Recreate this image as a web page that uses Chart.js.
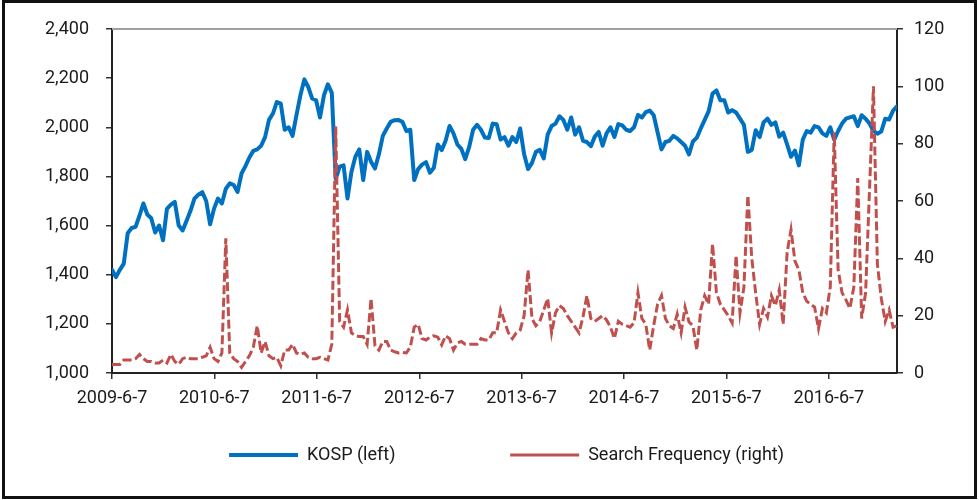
<!DOCTYPE html>
<html><head><meta charset="utf-8">
<script src="https://cdn.jsdelivr.net/npm/chart.js@4.4.0/dist/chart.umd.min.js"></script>
<style>
html,body{margin:0;padding:0;background:#fff;}
#wrap{position:relative;width:979px;height:500px;overflow:hidden;}
#frame{position:absolute;left:2px;top:0;width:975px;height:499px;border:3px solid #111;box-sizing:border-box;pointer-events:none;}
canvas{position:absolute;left:0;top:0;}
</style></head><body>
<div id="wrap"><canvas id="c" width="979" height="500"></canvas><div id="frame"></div></div>
<script>
// ---- data (biweekly observations starting 2009-6-7) ----
const startDate = '2009-6-7';
const stepDays = 14;
const tickLabels = ['2009-6-7','2010-6-7','2011-6-7','2012-6-7','2013-6-7','2014-6-7','2015-6-7','2016-6-7'];
const axisEndDay = 2800;
const seriesNames = ['KOSP (left)', 'Search Frequency (right)'];
const leftTicks = {min: 1000, max: 2400, step: 200};
const rightTicks = {min: 0, max: 120, step: 20};

const kospi = [
1420,1390,1420,1445,1569,1590,1595,1640,1690,1645,
1630,1572,1600,1540,1668,1685,1696,1600,1580,1620,
1660,1710,1726,1736,1700,1605,1669,1710,1690,1750,
1772,1765,1737,1812,1842,1877,1904,1910,1925,1960,
2030,2056,2103,2096,1990,2000,1965,2050,2130,2195,
2164,2117,2110,2040,2130,2175,2140,1790,1840,1845,
1710,1818,1880,1910,1785,1900,1860,1832,1890,1965,
1995,2022,2029,2030,2022,1985,1990,1785,1830,1848,
1858,1815,1835,1930,1907,1945,2005,1975,1930,1912,
1870,1920,1990,2010,1990,1958,1956,2015,2012,1950,
1960,1925,1960,1940,1995,1890,1830,1855,1900,1908,
1873,1970,2005,2015,2045,2030,1990,2040,1970,2000,
1945,1940,1923,1962,1981,1925,1975,2000,1961,2013,
2008,1990,1985,2000,2050,2040,2062,2068,2050,1980,
1910,1940,1945,1965,1955,1940,1925,1890,1942,1958,
1995,2030,2065,2137,2150,2110,2110,2060,2070,2060,
2035,2010,1900,1908,1988,1960,2020,2035,2010,2020,
1962,1978,1930,1880,1905,1845,1950,1985,1978,2005,
2000,1975,1965,2000,1950,1985,2015,2035,2040,2045,
2005,2049,2035,2015,1985,1974,1983,2035,2032,2068,
2085
];

const searchFreq = [
3,3,3,4.5,4.5,4.5,5,6.5,5,4,
4,3.5,3.5,4.5,3.5,6.5,4,3,5,5.5,
5,5,5,5.5,6,9,5,4,7,47,
7,5,4,2,4,6,9,16.5,7,11,
6,5,5.5,2.5,8,8,10,7,6.5,7,
5.5,5,5,5.5,5,4.5,10,86,18,16,
22,14,13,12.7,12.7,10,26,9.5,8,11,
11,8,7.4,7,7.2,7,9,16,17,12,
11.5,12.5,13,12.5,9.8,13,12,8,10.5,11,
10,10,10,10,12,11.5,11.5,14,14,22,
18,14,12,14,15,20,36,19,16.5,18,
22,26,14,21,23.5,22.5,20,18,16,14,
19.6,27,19,18,19,20,18.5,16,12,18,
17,16.5,16,17.5,28,19,17,8,16.5,24,
27,19,16.5,15.5,20.5,14,23,17.8,16.5,8,
22,27,24,45,28,24,22,20,17.5,41,
21,30,62,40,27.8,17,22.5,19.5,27,23.5,
29,17,42,50,39,36,28,25,24,23,
15.5,22.5,21,30,84,36,28,25.5,22.5,30,
68,19,28,64,100,38,26,18,22,16,
16.5
];

// ---- helpers ----
function toUTC(s){ const p = s.split('-').map(Number); return Date.UTC(p[0], p[1]-1, p[2]); }
const t0 = toUTC(startDate);
const dayOf = s => Math.round((toUTC(s) - t0) / 864e5);
const tickDays = tickLabels.map(dayOf);
const labelByDay = {}; tickLabels.forEach((l,i)=>{ labelByDay[tickDays[i]] = l; });
const toPoints = arr => arr.map((v,i)=>({x: i*stepDays, y: v}));

const FONT = 'Roboto, "Liberation Sans", sans-serif';
const TEXT = '#1a1a1a';

// legend spacing between the two entries (style only)
const mctx = document.createElement('canvas').getContext('2d');
mctx.font = '18px ' + FONT;
const spaceW = mctx.measureText(' ').width || 4.5;
const legendGapPx = 102;

const plotTopLine = {
  id: 'plotTopLine',
  beforeDatasetsDraw(chart){
    const {ctx, chartArea: a} = chart;
    ctx.save();
    ctx.strokeStyle = '#a0a0a0';
    ctx.lineWidth = 2;
    ctx.beginPath(); ctx.moveTo(a.left, a.top); ctx.lineTo(a.right, a.top); ctx.stroke();
    ctx.restore();
  }
};

const axisGrid = {drawOnChartArea: false, drawTicks: true, tickLength: 6, color: '#333', lineWidth: 1.5};
const axisBorder = {display: true, color: '#222', width: 2};

new Chart(document.getElementById('c'), {
  type: 'line',
  data: {
    datasets: [
      {label: seriesNames[0], data: toPoints(kospi), yAxisID: 'yL', borderColor: '#0070C0', backgroundColor: '#0070C0',
       borderWidth: 4, pointRadius: 0, tension: 0, borderCapStyle: 'round', borderJoinStyle: 'round', order: 1},
      {label: seriesNames[1], data: toPoints(searchFreq), yAxisID: 'yR', borderColor: '#C0504D', backgroundColor: '#C0504D',
       borderWidth: 3, borderDash: [9, 3.5], pointRadius: 0, tension: 0, order: 0}
    ]
  },
  options: {
    responsive: false,
    animation: false,
    layout: {padding: {left: 34, right: 0, top: 29, bottom: 26}},
    plugins: {
      tooltip: {enabled: false},
      legend: {
        position: 'bottom',
        labels: {
          usePointStyle: true, pointStyle: 'line', pointStyleWidth: 69, padding: 12,
          color: TEXT, font: {family: FONT, size: 18},
          sort: (a, b) => a.datasetIndex - b.datasetIndex,
          generateLabels(chart){
            const items = Chart.defaults.plugins.legend.labels.generateLabels(chart);
            items.sort((a,b)=>a.datasetIndex-b.datasetIndex);
            items.forEach(it => { it.pointStyle = 'line'; });
            items[0].text = items[0].text + ' '.repeat(Math.round(legendGapPx / spaceW));
            return items;
          }
        }
      }
    },
    scales: {
      x: {
        type: 'linear', min: 0, max: axisEndDay,
        grid: axisGrid, border: axisBorder,
        afterBuildTicks: s => { s.ticks = tickDays.map(v => ({value: v})); },
        afterFit: s => { s.height = 61; },
        ticks: {autoSkip: false, maxRotation: 0, padding: 9, color: TEXT, font: {family: FONT, size: 18},
                callback: v => labelByDay[v] ?? ''}
      },
      yL: {
        position: 'left', min: leftTicks.min, max: leftTicks.max,
        grid: axisGrid, border: axisBorder,
        afterFit: s => { s.width = 78; },
        ticks: {stepSize: leftTicks.step, padding: 17, color: TEXT, font: {family: FONT, size: 18},
                callback: v => Number(v).toLocaleString('en-US')}
      },
      yR: {
        position: 'right', min: rightTicks.min, max: rightTicks.max,
        grid: axisGrid, border: axisBorder,
        afterFit: s => { s.width = 82; },
        ticks: {stepSize: rightTicks.step, padding: 11, color: TEXT, font: {family: FONT, size: 18}}
      }
    }
  },
  plugins: [plotTopLine]
});
</script>
</body></html>
